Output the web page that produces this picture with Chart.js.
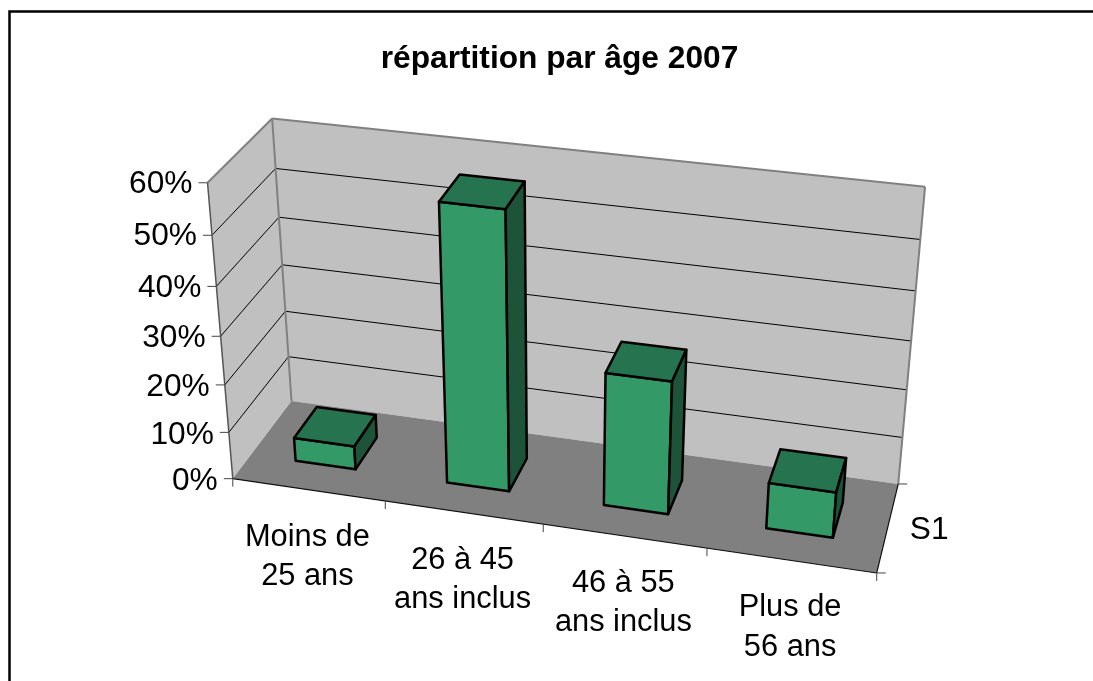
<!DOCTYPE html>
<html><head><meta charset="utf-8">
<style>html,body{margin:0;padding:0;background:#fff}canvas{display:block}</style>
<script src="https://cdn.jsdelivr.net/npm/chart.js@4"></script>
</head><body><canvas id="c" width="1093" height="681"></canvas>
<script>
const chartTitle = 'répartition par âge 2007';
const categories = [['Moins de','25 ans'],['26 à 45','ans inclus'],['46 à 55','ans inclus'],['Plus de','56 ans']];
const shares = [5, 57, 27.5, 9.5];
const seriesNames = ['S1'];
const percentTicks = {min:0, max:60, step:10};

// 3D frame: (across, up, depth) of the box -> canvas pixel, used to fit the perspective camera
const cameraFit = [
 [0,0,0, 233.3,479],[0,1,0, 207,182.7],[0,0,1, 291,400.7],[0,1,1, 272.7,118.7],
 [1,0,1, 898.3,484.3],[1,1,1, 925,186.7],[1,0,0, 876.7,572.7]
];
const barDepth = [0.3, 0.7];
const colors = {wall:'#C0C0C0', floor:'#808080', edge:'#808080', front:'#339966', top:'#267350', side:'#1C5339'};

function fitCamera(pts){
  const N=11, A=Array.from({length:N},()=>new Array(N+1).fill(0));
  const add=(r,t)=>{for(let i=0;i<N;i++){for(let j=0;j<N;j++)A[i][j]+=r[i]*r[j];A[i][N]+=r[i]*t;}};
  for(const [u,v,w,x,y] of pts){
    add([u,v,w,1,0,0,0,0,-x*u,-x*v,-x*w],x);
    add([0,0,0,0,u,v,w,1,-y*u,-y*v,-y*w],y);
  }
  for(let i=0;i<N;i++){
    let m=i;for(let k=i+1;k<N;k++)if(Math.abs(A[k][i])>Math.abs(A[m][i]))m=k;
    [A[i],A[m]]=[A[m],A[i]];
    for(let k=0;k<N;k++){if(k===i)continue;const f=A[k][i]/A[i][i];for(let j=i;j<=N;j++)A[k][j]-=f*A[i][j];}
  }
  return A.map((r,i)=>r[N]/r[i]);
}
const P=fitCamera(cameraFit);
function proj(u,v,w){
  const d=P[8]*u+P[9]*v+P[10]*w+1;
  return [(P[0]*u+P[1]*v+P[2]*w+P[3])/d,(P[4]*u+P[5]*v+P[6]*w+P[7])/d];
}
function poly(ctx,pts,fill,stroke,lw){
  ctx.beginPath();pts.forEach((p,i)=>i?ctx.lineTo(p[0],p[1]):ctx.moveTo(p[0],p[1]));ctx.closePath();
  if(fill){ctx.fillStyle=fill;ctx.fill();}
  if(stroke){ctx.strokeStyle=stroke;ctx.lineWidth=lw;ctx.lineJoin='round';ctx.stroke();}
}
function seg(ctx,a,b,color,lw){
  ctx.beginPath();ctx.moveTo(a[0],a[1]);ctx.lineTo(b[0],b[1]);ctx.strokeStyle=color;ctx.lineWidth=lw;ctx.lineCap='butt';ctx.stroke();
}

let plotArea=null;
class Box3D extends Chart.BarElement{
  draw(ctx){
    const ca=plotArea;
    const {x,y,base,width}=this.getProps(['x','y','base','width'],true);
    const u0=(x-width/2-ca.left)/ca.width,u1=(x+width/2-ca.left)/ca.width;
    const v0=(ca.bottom-base)/ca.height,v1=(ca.bottom-y)/ca.height;
    const [w0,w1]=barDepth;
    const o=this.options;
    ctx.save();
    poly(ctx,[proj(u0,v0,w0),proj(u1,v0,w0),proj(u1,v1,w0),proj(u0,v1,w0)],o.backgroundColor,o.borderColor,o.borderWidth);
    poly(ctx,[proj(u0,v1,w0),proj(u1,v1,w0),proj(u1,v1,w1),proj(u0,v1,w1)],colors.top,o.borderColor,o.borderWidth);
    poly(ctx,[proj(u1,v0,w0),proj(u1,v0,w1),proj(u1,v1,w1),proj(u1,v1,w0)],colors.side,o.borderColor,o.borderWidth);
    ctx.restore();
  }
}
Box3D.id='box3d';Box3D.defaults=Chart.BarElement.defaults;
class Bar3DController extends Chart.BarController{}
Bar3DController.id='bar3d';
Bar3DController.defaults={...Chart.BarController.defaults,dataElementType:'box3d'};
Bar3DController.overrides=Chart.BarController.overrides;
Chart.register(Box3D,Bar3DController);

const frame3D={
  id:'frame3D',
  beforeDraw(chart){
    const ctx=chart.ctx;
    plotArea=chart.chartArea;
    ctx.save();
    ctx.fillStyle='#fff';ctx.fillRect(0,0,chart.width,chart.height);
    ctx.beginPath();ctx.moveTo(9.5,chart.height);ctx.lineTo(9.5,11.5);ctx.lineTo(chart.width,11.5);
    ctx.strokeStyle='#000';ctx.lineWidth=2.5;ctx.stroke();
    ctx.restore();
    // put the library's tick labels along the slanted 3D axes
    const sy=chart.scales.y,sx=chart.scales.x,sz=chart.scales.z,ca=chart.chartArea;
    sy.getLabelItems(ca).forEach((it,i)=>{
      const v=(ca.bottom-sy.getPixelForTick(i))/ca.height;
      const p=proj(0,v,0);
      it.options.translation=[p[0]-15,p[1]+1+2*(1-v)];
    });
    sx.getLabelItems(ca).forEach((it,i)=>{
      const p=proj((i+0.5)/categories.length,0,0);
      it.options.translation=[p[0]-1,p[1]+28];
      it.options.textAlign='center';
    });
    sz.getLabelItems(ca).forEach(it=>{
      const p=proj(1,0,0.5);
      it.options.translation=[p[0]+22,p[1]+3];
      it.options.textAlign='left';
    });
  },
  beforeDatasetsDraw(chart){
    const ctx=chart.ctx,ticks=chart.scales.y.ticks,sy=chart.scales.y,ca=chart.chartArea;
    ctx.save();
    // walls and floor
    poly(ctx,[proj(0,0,0),proj(0,1,0),proj(0,1,1),proj(0,0,1)],colors.wall);
    poly(ctx,[proj(0,0,1),proj(0,1,1),proj(1,1,1),proj(1,0,1)],colors.wall);
    poly(ctx,[proj(0,0,0),proj(0,0,1),proj(1,0,1),proj(1,0,0)],colors.floor);
    // grid lines
    ticks.forEach((t,i)=>{
      const v=(ca.bottom-sy.getPixelForTick(i))/ca.height;
      if(v>0&&v<1){
        seg(ctx,proj(0,v,0),proj(0,v,1),'#000',1);
        seg(ctx,proj(0,v,1),proj(1,v,1),'#000',1);
      }
    });
    // wall edges
    seg(ctx,proj(0,1,0),proj(0,1,1),colors.edge,2);
    seg(ctx,proj(0,1,1),proj(1,1,1),colors.edge,2);
    seg(ctx,proj(0,0,1),proj(0,1,1),colors.edge,2);
    seg(ctx,proj(1,0,1),proj(1,1,1),colors.edge,2);
    // floor front + right edges and main axis
    seg(ctx,proj(0,0,0),proj(1,0,0),'#111',1.2);
    seg(ctx,proj(1,0,0),proj(1,0,1),'#111',1.2);
    seg(ctx,proj(0,0,0),proj(0,1,0),'#555',1.5);
    // tick marks
    ticks.forEach((t,i)=>{
      const v=(ca.bottom-sy.getPixelForTick(i))/ca.height,p=proj(0,v,0);
      seg(ctx,[p[0]-9,p[1]],p,'#444',1);
    });
    for(let i=0;i<=categories.length;i++){
      const p=proj(i/categories.length,0,0);
      seg(ctx,p,[p[0],p[1]+8],'#444',1);
    }
    [0,1].forEach(w=>{const p=proj(1,0,w);seg(ctx,p,[p[0]+9,p[1]],'#444',1);});
    ctx.restore();
  }
};

const labelFont={family:'"Liberation Sans", Arial, sans-serif',size:31.7,lineHeight:1.23};
const categoryFont={family:labelFont.family,size:30.8,lineHeight:1.27};
new Chart(document.getElementById('c'),{
  type:'bar3d',
  plugins:[frame3D],
  data:{labels:categories,datasets:[{label:seriesNames[0],data:shares,clip:false,backgroundColor:colors.front,borderColor:'#000',borderWidth:2.5,barPercentage:0.4,categoryPercentage:1}]},
  options:{
    responsive:false,animation:false,
    layout:{padding:{left:26,right:0,top:0,bottom:0}},
    plugins:{
      legend:{display:false},tooltip:{enabled:false},
      title:{display:true,text:chartTitle,color:'#000',font:{family:labelFont.family,size:31.7,weight:'bold',lineHeight:1.2},padding:{top:40,bottom:105}}
    },
    scales:{
      x:{type:'category',grid:{display:false},border:{display:false},
         ticks:{color:'#000',font:categoryFont,maxRotation:0,minRotation:0,autoSkip:false,padding:0},
         afterFit:s=>{s.height=202;}},
      y:{type:'linear',position:'left',min:percentTicks.min,max:percentTicks.max,grid:{display:false},border:{display:false},
         ticks:{stepSize:percentTicks.step,color:'#000',font:labelFont,callback:v=>v+'%'},
         afterFit:s=>{s.width=207;}},
      z:{type:'category',axis:'y',position:'right',labels:seriesNames,grid:{display:false},border:{display:false},
         ticks:{color:'#000',font:labelFont},
         afterFit:s=>{s.width=216;}}
    }
  }
});
</script></body></html>
